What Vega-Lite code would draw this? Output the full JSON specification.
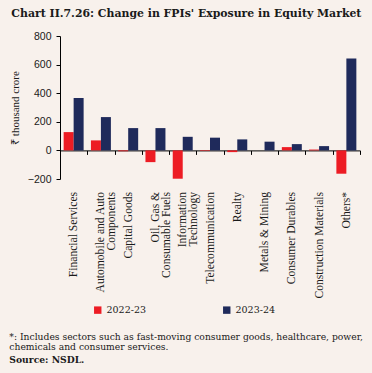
{
  "$schema": "https://vega.github.io/schema/vega-lite/v6.json",
  "background": "#f8f1ec",
  "padding": {"left": 9, "top": 8, "right": 9, "bottom": 10},
  "title": {
    "text": "Chart II.7.26: Change in FPIs' Exposure in Equity Market",
    "anchor": "start",
    "font": "DejaVu Serif",
    "fontSize": 10.9,
    "fontWeight": "bold",
    "color": "#1a1a1a",
    "offset": 12,
    "dx": 2
  },
  "vconcat": [
    {
      "width": 300,
      "height": 143,
      "title": {
        "text": ["*: Includes sectors such as fast-moving consumer goods, healthcare, power,", "chemicals and consumer services."],
        "subtitle": "Source: NSDL.",
        "orient": "bottom",
        "anchor": "start",
        "frame": "bounds",
        "font": "DejaVu Serif",
        "fontSize": 9.2,
        "fontWeight": "normal",
        "lineHeight": 10.5,
        "color": "#1a1a1a",
        "subtitleFont": "DejaVu Serif",
        "subtitleFontSize": 9.2,
        "subtitleFontWeight": "bold",
        "subtitleColor": "#1a1a1a",
        "subtitlePadding": 3,
        "offset": 35
      },
      "data": {
        "values": [
          {"sector": "Financial Services", "year": "2022-23", "value": 128},
          {"sector": "Financial Services", "year": "2023-24", "value": 366},
          {"sector": "Automobile and Auto|Components", "year": "2022-23", "value": 70},
          {"sector": "Automobile and Auto|Components", "year": "2023-24", "value": 233},
          {"sector": "Capital Goods", "year": "2022-23", "value": -6},
          {"sector": "Capital Goods", "year": "2023-24", "value": 156},
          {"sector": "Oil, Gas &|Consumable Fuels", "year": "2022-23", "value": -82},
          {"sector": "Oil, Gas &|Consumable Fuels", "year": "2023-24", "value": 156},
          {"sector": "Information|Technology", "year": "2022-23", "value": -198},
          {"sector": "Information|Technology", "year": "2023-24", "value": 95},
          {"sector": "Telecommunication", "year": "2022-23", "value": -4},
          {"sector": "Telecommunication", "year": "2023-24", "value": 89},
          {"sector": "Realty", "year": "2022-23", "value": -12},
          {"sector": "Realty", "year": "2023-24", "value": 77},
          {"sector": "Metals & Mining", "year": "2022-23", "value": 0},
          {"sector": "Metals & Mining", "year": "2023-24", "value": 61},
          {"sector": "Consumer Durables", "year": "2022-23", "value": 23},
          {"sector": "Consumer Durables", "year": "2023-24", "value": 44},
          {"sector": "Construction Materials", "year": "2022-23", "value": 6},
          {"sector": "Construction Materials", "year": "2023-24", "value": 30},
          {"sector": "Others*", "year": "2022-23", "value": -163},
          {"sector": "Others*", "year": "2023-24", "value": 642}
        ]
      },
      "mark": {"type": "bar"},
      "encoding": {
        "x": {
          "field": "sector",
          "type": "nominal",
          "sort": null,
          "scale": {"paddingInner": 0, "paddingOuter": 0},
          "axis": {
            "title": null,
            "offset": -28.6,
            "domain": true,
            "domainColor": "#000000",
            "domainWidth": 1,
            "ticks": true,
            "tickBand": "extent",
            "tickColor": "#000000",
            "tickSize": 4,
            "labelAngle": -90,
            "labelAlign": "right",
            "labelBaseline": "middle",
            "labelPadding": 37,
            "labelFont": "Liberation Serif",
            "labelFontSize": 11.6,
            "labelColor": "#1a1a1a",
            "labelLineHeight": 11,
            "labelExpr": "split(datum.label, '|')",
            "labelLimit": 0
          }
        },
        "xOffset": {
          "field": "year",
          "type": "nominal",
          "scale": {"paddingInner": 0, "paddingOuter": 0.365}
        },
        "y": {
          "field": "value",
          "type": "quantitative",
          "scale": {"domain": [-200, 800], "nice": false, "zero": false},
          "axis": {
            "title": "₹ thousand crore",
            "titleFont": "Liberation Serif",
            "titleFontSize": 11,
            "titleFontWeight": "normal",
            "titleColor": "#1a1a1a",
            "titlePadding": 7,
            "values": [-200, 0, 200, 400, 600, 800],
            "domain": true,
            "domainColor": "#000000",
            "ticks": true,
            "tickColor": "#000000",
            "tickSize": 4,
            "labelPadding": 5,
            "labelFont": "Liberation Sans",
            "labelFontSize": 10.5,
            "labelColor": "#1a1a1a",
            "grid": false
          }
        },
        "color": {
          "field": "year",
          "type": "nominal",
          "scale": {"domain": ["2022-23", "2023-24"], "range": ["#ed1c24", "#1f2a5b"]},
          "legend": {
            "title": null,
            "orient": "none",
            "legendX": 33,
            "legendY": 269,
            "direction": "horizontal",
            "symbolType": "square",
            "symbolSize": 55,
            "symbolStrokeWidth": 0,
            "labelFont": "DejaVu Serif",
            "labelFontSize": 9.5,
            "labelColor": "#1a1a1a",
            "labelOffset": 4,
            "columnPadding": 76
          }
        }
      }
    }
  ],
  "config": {
    "view": {"stroke": null},
    "axis": {"grid": false}
  }
}
